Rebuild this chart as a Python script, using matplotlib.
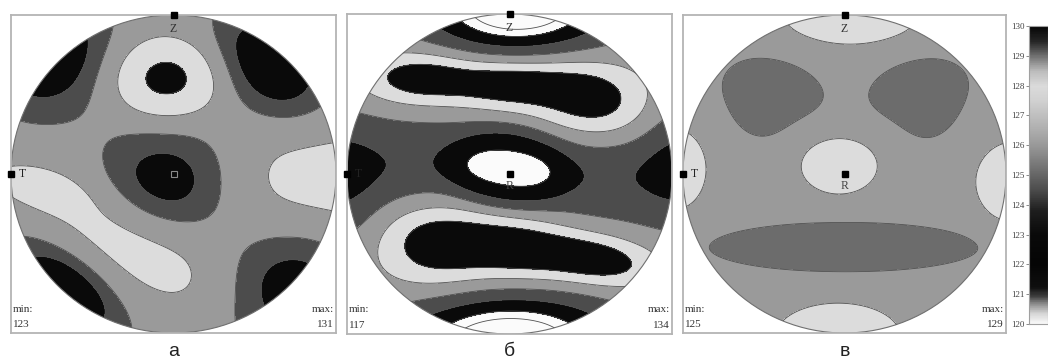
import numpy as np
import matplotlib
matplotlib.use("Agg")
import matplotlib.pyplot as plt
from matplotlib.colors import LinearSegmentedColormap
from matplotlib.patches import Circle

W, H = 1048, 364

# ---------------- colour bar data ----------------
cbar_values = [120, 120.3, 120.6, 120.9, 121.2, 122, 123, 123.8, 124.5, 125,
               125.5, 126, 126.5, 127, 127.5, 128, 128.5, 129, 129.5, 130]
cbar_gray = [0.97, 0.85, 0.6, 0.25, 0.06, 0.02, 0.04, 0.12, 0.3, 0.4,
             0.5, 0.6, 0.68, 0.75, 0.82, 0.86, 0.74, 0.45, 0.15, 0.03]
cbar_ticks = [120, 121, 122, 123, 124, 125, 126, 127, 128, 129, 130]

# ---------------- tones ----------------
WHITE, LIGHT, MID, DARK, BLACK = "#fbfbfb", "#dcdcdc", "#9a9a9a", "#4c4c4c", "#0a0a0a"
DARK_C = "#6c6c6c"

# ---------------- panel a ----------------
a_base = 0.0
a_levels = [-10, -1.5, -0.5, 1.0, 3.0, 10]
a_colors = [BLACK, DARK, MID, LIGHT, BLACK]
a_u   = [-0.04, -0.045, 0.97, -0.28, -0.85, -0.76, 0.60, -0.66, 0.71]
a_v   = [-0.05, 0.60, -0.06, -0.43, -0.08, 0.74, 0.68, -0.72, -0.71]
a_sx  = [0.29, 0.22, 0.52, 0.55, 0.20, 0.27, 0.27, 0.28, 0.32]
a_sy  = [0.24, 0.17, 0.29, 0.20, 0.08, 0.23, 0.19, 0.15, 0.27]
a_ang = [0, 0, 0, -32, -15, 45, -43, -40, 45]
a_amp = [-2.4, 3.7, 1.8, 1.8, 1.4, -2.6, -2.8, -2.8, -2.3]
a_pow = [2, 2, 2, 2, 2, 2, 2, 2, 2]
a_min, a_max = "123", "131"

# ---------------- panel b ----------------
b_base = 2.5
b_levels = [-10, -0.6, 0.0, 1.0, 2.0, 3.0, 4.0, 20]
b_colors = [WHITE, WHITE, BLACK, DARK, MID, LIGHT, BLACK]
b_u   = [0.0, -0.01, -1.05, 1.05, -0.55, 0.0, 0.50, -0.45, 0.05, 0.55, 0.05, 0.0]
b_v   = [0.02, 0.04, -0.10, 0.12, 0.60, 0.56, 0.46, -0.43, -0.46, -0.54, 1.05, -1.05]
b_sx  = [1.5, 0.33, 0.19, 0.18, 0.25, 0.25, 0.25, 0.25, 0.25, 0.25, 0.40, 0.46]
b_sy  = [0.22, 0.21, 0.28, 0.26, 0.115, 0.11, 0.17, 0.19, 0.14, 0.11, 0.20, 0.20]
b_ang = [-3, -6, 0, 0, 0, 0, -8, 0, -5, -8, 0, 0]
b_amp = [-1.45, -1.35, -1.0, -1.0, 2.2, 2.2, 2.2, 2.2, 2.2, 2.2, -4.1, -4.1]
b_pow = [2, 4, 2, 2, 2, 2, 2, 2, 2, 2, 2, 2]
b_min, b_max = "117", "134"

# ---------------- panel c ----------------
c_base = 0.0
c_levels = [-10, -0.5, 0.5, 10]
c_colors = [DARK_C, MID, LIGHT]
c_u   = [0.04, -0.033, -1.05, 1.05, -0.04, -0.43, -0.53, 0.45, 0.53, 0.0]
c_v   = [1.0, 0.052, 0.03, -0.05, -1.02, 0.54, 0.40, 0.54, 0.39, -0.46]
c_sx  = [0.28, 0.16, 0.13, 0.16, 0.26, 0.22, 0.13, 0.22, 0.13, 0.75]
c_sy  = [0.125, 0.12, 0.17, 0.17, 0.14, 0.13, 0.15, 0.13, 0.15, 0.14]
c_ang = [0, 0, 0, 0, 0, -12, 20, 12, -20, 0]
c_amp = [1.5, 1.5, 1.5, 1.5, 1.5, -1.2, -0.8, -1.2, -0.8, -1.1]
c_pow = [2, 2, 2, 2, 2, 2, 2, 2, 2, 4]
c_min, c_max = "125", "129"

panel_letters = ["а", "б", "в"]

# panel boxes in pixels: left, right, top, bottom
boxes = [(11, 336, 15, 333), (347, 672, 14, 334), (683, 1006, 15, 333)]

SERIF = ["Liberation Serif", "DejaVu Serif"]
SANS = ["Liberation Sans", "DejaVu Sans"]


def make_field(gx, gy, base, us, vs, sxs, sys_, angs, amps, pows):
    f = np.full_like(gx, base)
    for u, v, sx, sy, ang, amp, p in zip(us, vs, sxs, sys_, angs, amps, pows):
        t = np.deg2rad(ang)
        dx, dy = gx - u, gy - v
        xr = dx * np.cos(t) + dy * np.sin(t)
        yr = -dx * np.sin(t) + dy * np.cos(t)
        q = (xr / sx) ** 2 + (yr / sy) ** 2
        f = f + amp * np.exp(-0.5 * q ** (p / 2.0))
    return f


fig = plt.figure(figsize=(W / 100, H / 100), dpi=100)


def px_axes(l, r, t, b):
    return fig.add_axes([l / W, 1 - b / H, (r - l) / W, (b - t) / H])


g = np.linspace(-1.02, 1.02, 500)
GX, GY = np.meshgrid(g, g)

panels = [
    (a_base, a_levels, a_colors, a_u, a_v, a_sx, a_sy, a_ang, a_amp, a_pow, a_min, a_max),
    (b_base, b_levels, b_colors, b_u, b_v, b_sx, b_sy, b_ang, b_amp, b_pow, b_min, b_max),
    (c_base, c_levels, c_colors, c_u, c_v, c_sx, c_sy, c_ang, c_amp, c_pow, c_min, c_max),
]

for i, (base, levels, colors, us, vs, sxs, sys_, angs, amps, pows, vmin, vmax) in enumerate(panels):
    l, r, t, b = boxes[i]
    ax = px_axes(l, r, t, b)
    ax.set_xlim(-1.0, 1.0)
    ax.set_ylim(-1.0, 1.0)
    ax.set_xticks([])
    ax.set_yticks([])
    for s in ax.spines.values():
        s.set_color("#b4b4b4")
        s.set_linewidth(1.3)
    F = make_field(GX, GY, base, us, vs, sxs, sys_, angs, amps, pows)
    clip = Circle((0, 0), 1.0, transform=ax.transData)
    cf = ax.contourf(GX, GY, F, levels=levels, colors=colors)
    cf.set_clip_path(clip)
    cl = ax.contour(GX, GY, F, levels=levels[1:-1], colors="#505050", linewidths=0.6,
                    linestyles="solid")
    cl.set_clip_path(clip)
    ax.add_patch(Circle((0, 0), 1.0, fill=False, ec="#707070", lw=0.8))

    # reference marks
    ax.plot([0], [1.0], "s", color="black", ms=5, clip_on=False, zorder=5)
    ax.plot([-1.0], [0], "s", color="black", ms=5, clip_on=False, zorder=5)
    ax.text(0, 0.915, "Z", ha="center", va="center", family=SERIF, fontsize=8.5, color="#333333", zorder=6)
    ax.text(-0.93, 0, "T", ha="center", va="center", family=SERIF, fontsize=8.5,
            color="#222222", zorder=6)
    if i == 0:
        ax.plot([0], [0], "s", mfc="none", mec="#8a8a8a", ms=5, mew=0.8, zorder=5)
    else:
        ax.plot([0], [0], "s", color="black", ms=5, zorder=5)
        ax.text(0, -0.075, "R", ha="center", va="center", family=SERIF, fontsize=8.5,
                color="#444444", zorder=6)

    ax.text(0.006, 0.075, "min:", transform=ax.transAxes, ha="left", va="center",
            family=SERIF, fontsize=8, color="#333333")
    ax.text(0.006, 0.028, vmin, transform=ax.transAxes, ha="left", va="center",
            family=SERIF, fontsize=8, color="#333333")
    ax.text(0.994, 0.075, "max:", transform=ax.transAxes, ha="right", va="center",
            family=SERIF, fontsize=8, color="#333333")
    ax.text(0.994, 0.028, vmax, transform=ax.transAxes, ha="right", va="center",
            family=SERIF, fontsize=8, color="#333333")

    cx = (l + r) / 2 / W
    fig.text(cx, 1 - 351 / H, panel_letters[i], ha="center", va="center",
             family=SANS, fontsize=14, color="#222222")

# ---------------- colour bar ----------------
cax = px_axes(1029, 1048, 26, 324)
lo, hi = cbar_values[0], cbar_values[-1]
pos = [(v - lo) / (hi - lo) for v in cbar_values]
cmap = LinearSegmentedColormap.from_list("cb", [(p, (gv, gv, gv)) for p, gv in zip(pos, cbar_gray)])
grad = np.linspace(lo, hi, 400).reshape(-1, 1)
cax.imshow(grad, aspect="auto", cmap=cmap, origin="lower", extent=[0, 1, lo, hi], vmin=lo, vmax=hi)
cax.set_xticks([])
cax.set_yticks(cbar_ticks)
cax.set_yticklabels([str(t) for t in cbar_ticks], family=SERIF, fontsize=6.5, color="#444444")
cax.tick_params(axis="y", length=2, width=0.6, pad=1, colors="#777777", labelcolor="#444444")
for s in cax.spines.values():
    s.set_color("#a0a0a0")
    s.set_linewidth(0.8)

fig.savefig("out.png", dpi=100, facecolor="white")
